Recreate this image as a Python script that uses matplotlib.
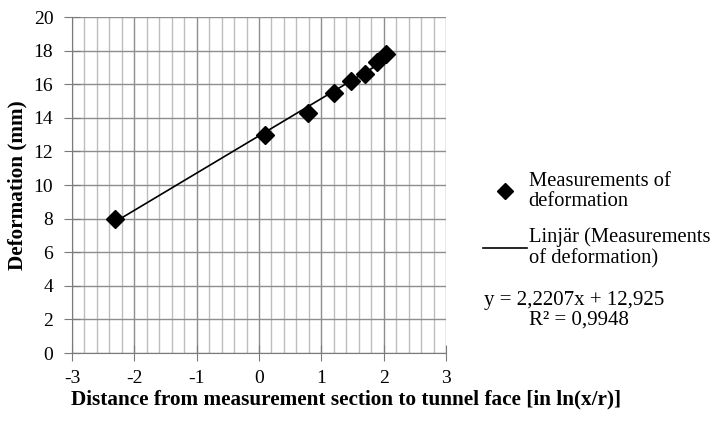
import numpy as np
import matplotlib.pyplot as plt
from matplotlib.ticker import MultipleLocator

dist = [-2.31, 0.10, 0.79, 1.20, 1.48, 1.70, 1.89, 2.04]
deform = [8.0, 13.0, 14.3, 15.5, 16.2, 16.6, 17.3, 17.8]

plt.rcParams['font.family'] = ['Liberation Serif', 'DejaVu Serif']
plt.rcParams['axes.unicode_minus'] = False

fig = plt.figure(figsize=(7.15, 4.22), dpi=100)
ax = fig.add_axes([0.1007, 0.1635, 0.5231, 0.7962])

# linear trend line over data range
k, m = np.polyfit(dist, deform, 1)
xs = np.array([min(dist), max(dist)])
ax.plot(dist, deform, linestyle='none', marker='D', color='black', markersize=9,
        label='Measurements of\ndeformation', zorder=3)
ax.plot(xs, k * xs + m, color='black', linewidth=1.2,
        label='Linjär (Measurements\nof deformation)', zorder=2)

ax.set_xlim(-3, 3)
ax.set_ylim(0, 20)
ax.xaxis.set_major_locator(MultipleLocator(1))
ax.xaxis.set_minor_locator(MultipleLocator(0.2))
ax.yaxis.set_major_locator(MultipleLocator(2))
ax.grid(which='major', color='#8e8e8e', linewidth=1.0)
ax.grid(which='minor', axis='x', color='#bdbdbd', linewidth=1.0)
ax.tick_params(which='minor', length=0)
ax.tick_params(which='major', direction='inout', length=12, color='#7a7a7a',
               labelsize=14)
ax.tick_params(axis='x', pad=6.5)
ax.tick_params(axis='y', pad=7.5)
for s in ['top', 'right']:
    ax.spines[s].set_visible(False)
for s in ['left', 'bottom']:
    ax.spines[s].set_color('#7a7a7a')
ax.set_axisbelow(True)

ax.set_xlabel('Distance from measurement section to tunnel face [in ln(x/r)]',
              fontsize=15.3, fontweight='bold', va='center')
ax.xaxis.set_label_coords(0.733, -0.137)
ax.set_ylabel('Deformation (mm)', fontsize=15.3, fontweight='bold', labelpad=4)

leg = fig.legend(loc='upper left', bbox_to_anchor=(0.676, 0.593), frameon=False,
                 fontsize=14.8, handlelength=2.1, handletextpad=0.1,
                 labelspacing=0.8, borderaxespad=0, borderpad=0,
                 markerscale=0.85)
for t in leg.get_texts():
    t.set_linespacing(1.1)

fig.text(0.677, 0.289, 'y = 2,2207x + 12,925', fontsize=15, va='center')
fig.text(0.81, 0.242, 'R² = 0,9948', fontsize=15, va='center', ha='center')

fig.savefig('out.png', dpi=100)
